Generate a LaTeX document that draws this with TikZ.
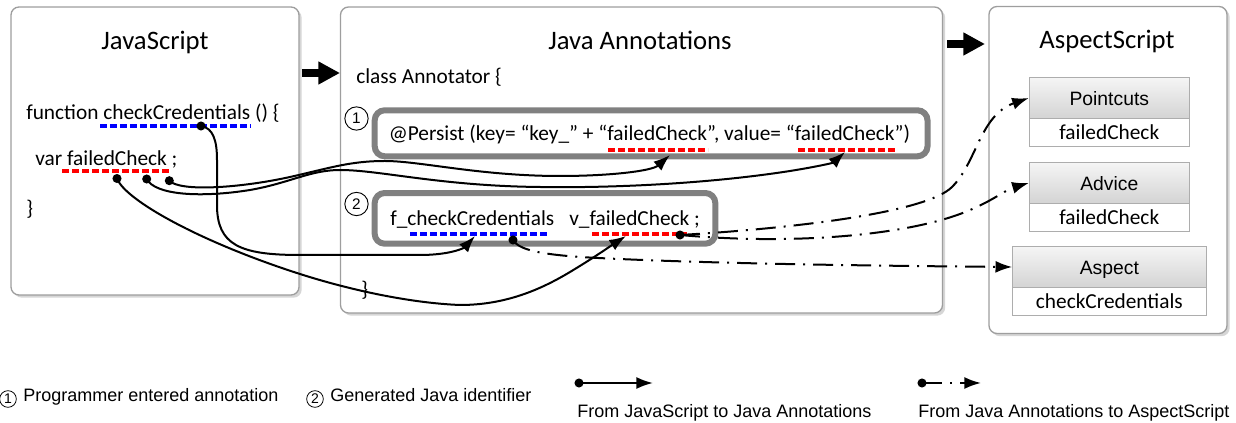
\documentclass[tikz,border=0pt]{standalone}
\usepackage{fontspec}
\setmainfont{Carlito}
\newfontfamily\arialf{Liberation Sans}
\usetikzlibrary{arrows.meta,shadows,shadings}
\tikzset{
  outerbox/.style={draw=black!38, line width=1pt, rounded corners=6pt, fill=white, inner sep=0pt,
    drop shadow={shadow xshift=2pt, shadow yshift=-2pt, fill=black!16, opacity=1}},
  annbox/.style={draw=black!50, line width=4.5pt, rounded corners=7.5pt, inner sep=0pt},
  code/.style={font=\fontsize{16pt}{19pt}\selectfont, inner sep=0pt, anchor=base west},
  titletxt/.style={font=\fontsize{20pt}{24pt}\selectfont, inner sep=0pt, anchor=base},
  hdr/.style={draw=black!32, line width=0.75pt, top color=black!4, bottom color=black!17, inner sep=0pt, minimum height=30.45pt},
  bodybox/.style={draw=black!32, line width=0.75pt, fill=white, inner sep=0pt, minimum height=21.3pt},
  hdrtxt/.style={font=\arialf\fontsize{14.5pt}{17pt}\selectfont, inner sep=0pt, anchor=base},
  bodytxt/.style={font=\fontsize{16pt}{19pt}\selectfont, inner sep=0pt, anchor=base},
  ul/.style={line width=2.5pt, dash pattern=on 4.9pt off 2.6pt},
  blueul/.style={ul, draw=blue},
  redul/.style={ul, draw=red},
  jsline/.style={line width=1.5pt, -{Latex[length=12.5pt,width=9pt]}},
  ddline/.style={line width=1.5pt, dash pattern=on 15pt off 6pt on 1.5pt off 6pt, -{Latex[length=12.5pt,width=9pt]}},
  numc/.style={circle, draw, line width=0.7pt, inner sep=0pt, minimum size=17.5pt, font=\arialf\fontsize{11.5pt}{13pt}\selectfont},
  legnum/.style={circle, draw, line width=0.6pt, inner sep=0pt, minimum size=12.5pt, font=\arialf\fontsize{10.5pt}{12pt}\selectfont},
  legtxt/.style={font=\arialf\fontsize{13.5pt}{16pt}\selectfont, inner sep=0pt, anchor=base west},
  bigarrow/.style={line width=5.6pt, -{Triangle[length=16.3pt,width=16.3pt]}},
  dotr/.style={radius=3.4pt}
}
\begin{document}
\begin{tikzpicture}[x=0.75pt,y=-0.75pt]
\useasboundingbox (0,0) rectangle (1236,423);

% outer boxes
\node[outerbox, minimum width=216pt, minimum height=216pt] (js) at (155,151) {};
\node[outerbox, minimum width=451.5pt, minimum height=229.5pt] (ja) at (641.5,160) {};
\node[outerbox, minimum width=178.5pt, minimum height=245.25pt] (as) at (1108,170) {};

% titles
\node[titletxt] (jsT) at (155,50) {JavaScript};
\node[titletxt] (jaT) at (640,50) {Java Annotations};
\node[titletxt] (asT) at (1107,49) {AspectScript};

% big arrows
\coordinate (b1s) at (302,73);
\coordinate (b1e) at (340,73);
\coordinate (b2s) at (947,44);
\coordinate (b2e) at (985,44);
\draw[bigarrow] (b1s) -- (b1e);
\draw[bigarrow] (b2s) -- (b2e);

% JavaScript code
\node[code] (fnL) at (26,119.5) {function checkCredentials () \{};
\node[code] (varL) at (35,165.5) {var failedCheck ;};
\node[code] (brL) at (26,216) {\}};
\coordinate (u1a) at (100,126); \coordinate (u1b) at (251,126);
\coordinate (u2a) at (62,171); \coordinate (u2b) at (171,171);
\draw[blueul] (u1a) -- (u1b);
\draw[redul] (u2a) -- (u2b);

% Java annotations code
\node[code] (clsL) at (356,84) {class Annotator \{};
\node[annbox, minimum width=414.6pt, minimum height=34.5pt] (box1) at (651.1,133.3) {};
\node[annbox, minimum width=255.5pt, minimum height=38pt] (box2) at (545,218.35) {};
\node[numc] (n1) at (356.5,118.5) {1};
\node[numc] (n2) at (356.5,204) {2};
\node[code] (perL) at (388.5,141) {@Persist (key= “key\_” + “failedCheck”, value= “failedCheck”)};
\node[code] (fcL) at (390,225.5) {f\_checkCredentials};
\node[code] (vfL) at (569,225.5) {v\_failedCheck ;};
\node[code] (br2L) at (361,297) {\}};
\coordinate (u3a) at (608,150); \coordinate (u3b) at (708,150);
\coordinate (u4a) at (798,150); \coordinate (u4b) at (897,150);
\coordinate (u5a) at (410,234); \coordinate (u5b) at (548,234);
\coordinate (u6a) at (592,234); \coordinate (u6b) at (687,234);
\draw[redul] (u3a) -- (u3b);
\draw[redul] (u4a) -- (u4b);
\draw[blueul] (u5a) -- (u5b);
\draw[redul] (u6a) -- (u6b);

% AspectScript boxes
\node[hdr, minimum width=120pt] (pcH) at (1109.3,98) {};
\node[bodybox, minimum width=120pt] (pcB) at (1109.3,132.5) {};
\node[hdr, minimum width=120pt] (adH) at (1109.3,183) {};
\node[bodybox, minimum width=120pt] (adB) at (1109.3,217.5) {};
\node[hdr, minimum width=145pt] (apH) at (1109.35,267) {};
\node[bodybox, minimum width=145pt, minimum height=21.5pt] (apB) at (1109.35,301.65) {};
\node[hdrtxt] (pcHt) at (1109.3,106) {Pointcuts};
\node[bodytxt] (pcBt) at (1109.3,140) {failedCheck};
\node[hdrtxt] (adHt) at (1109.3,190.7) {Advice};
\node[bodytxt] (adBt) at (1109.3,224.3) {failedCheck};
\node[hdrtxt] (apHt) at (1109.35,274.3) {Aspect};
\node[bodytxt] (apBt) at (1109.35,308.5) {checkCredentials};

% dots and tips
\coordinate (dCC) at (201,126);
\coordinate (dF1) at (117,178.5);
\coordinate (dF2) at (146.7,179);
\coordinate (dF3) at (169.3,180.7);
\coordinate (dB2) at (513,240);
\coordinate (dR2) at (680,235);
\coordinate (tA) at (670,155);
\coordinate (tB) at (845,152);
\coordinate (tC) at (626,236);
\coordinate (tD) at (475,236);

% JavaScript -> Java annotations
\draw[jsline] (dCC) .. controls (213,128) and (217,140) .. (217,160) -- (217,205)
  .. controls (217,245) and (240,255) .. (300,255) -- (420,255)
  .. controls (450,255) and (464,248) .. (tD);
\draw[jsline] (dF3) .. controls (180,192) and (240,188) .. (290,177)
  .. controls (330,168) and (350,161) .. (385,161)
  .. controls (420,161) and (480,176) .. (560,176)
  .. controls (610,176) and (652,171) .. (tA);
\draw[jsline] (dF2) .. controls (155,195) and (200,198) .. (250,190)
  .. controls (290,183) and (310,170) .. (340,170)
  .. controls (380,170) and (440,186) .. (540,187)
  .. controls (600,188) and (700,185) .. (790,171)
  .. controls (815,167) and (833,163) .. (tB);
\draw[jsline] (dF1) .. controls (125,200) and (200,242) .. (300,274)
  .. controls (350,290) and (410,303) .. (460,305)
  .. controls (505,305) and (540,290) .. (570,272)
  .. controls (595,257) and (612,245) .. (tC);

% Java annotations -> AspectScript
\draw[ddline] (dB2) .. controls (519,250) and (540,254) .. (580,257)
  .. controls (700,264) and (900,266) .. (apH.west);
\draw[ddline] (dR2) .. controls (800,228) and (927,212) .. (952,187)
  .. controls (977,162) and (980,115) .. (pcH.west);
\draw[ddline] (dR2) .. controls (790,245) and (900,236) .. (960,214)
  .. controls (990,203) and (1005,190) .. (adH.west);

\fill (dCC) circle[dotr];
\fill (dF1) circle[dotr];
\fill (dF2) circle[dotr];
\fill (dF3) circle[dotr];
\fill (dB2) circle[dotr];
\fill (dR2) circle[dotr];

% legend
\node[legnum] (l1) at (8,399) {1};
\node[legtxt] (l1t) at (23,402) {Programmer entered annotation};
\node[legnum] (l2) at (315,399) {2};
\node[legtxt] (l2t) at (330,402) {Generated Java identifier};
\coordinate (ls1) at (579,383);
\coordinate (le1) at (653,383);
\coordinate (ls2) at (922,383);
\coordinate (le2) at (981,383);
\draw[jsline] (ls1) -- (le1);
\draw[ddline] (ls2) -- (le2);
\fill (ls1) circle[dotr];
\fill (ls2) circle[dotr];
\node[legtxt] (l3t) at (577,418) {From JavaScript to Java Annotations};
\node[legtxt] (l4t) at (918,418) {From Java Annotations to AspectScript};
\end{tikzpicture}
\end{document}
